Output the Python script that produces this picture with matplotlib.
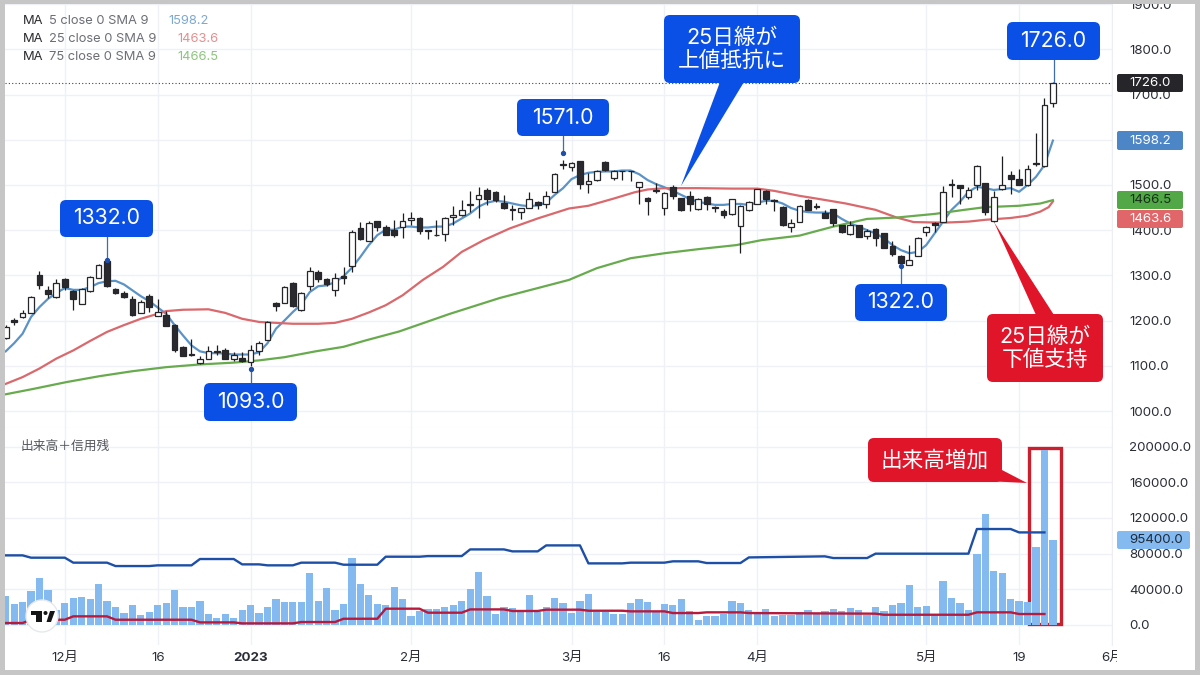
import matplotlib
matplotlib.use('Agg')
import matplotlib.pyplot as plt
from matplotlib.patches import Rectangle, FancyBboxPatch, Polygon, Circle

plt.rcParams['font.family'] = ['Inter', 'Noto Sans CJK JP', 'DejaVu Sans']

#daily candles
opens = [1162, 1201, 1208, 1217, 1300, 1267, 1252, 1293, 1265, 1237,
         1265, 1295, 1332, 1271, 1261, 1248, 1217, 1255, 1211, 1212,
         1190, 1142, 1127, 1106, 1116, 1133, 1136, 1116, 1118, 1109,
         1132, 1158, 1240, 1240, 1284, 1223, 1276, 1307, 1293, 1268,
         1298, 1320, 1405, 1376, 1420, 1406, 1401, 1406, 1423, 1428,
         1401, 1390, 1391, 1430, 1434, 1455, 1470, 1490, 1485, 1461,
         1447, 1440, 1450, 1462, 1459, 1485, 1546, 1539, 1552, 1503,
         1510, 1551, 1515, 1531, 1532, 1496, 1472, 1486, 1448, 1496,
         1471, 1475, 1446, 1474, 1452, 1442, 1436, 1409, 1444, 1459,
         1487, 1467, 1451, 1408, 1419, 1467, 1454, 1439, 1446, 1411,
         1392, 1411, 1387, 1403, 1393, 1365, 1343, 1324, 1343, 1397,
         1417, 1419, 1502, 1500, 1474, 1500, 1504, 1420, 1492, 1521,
         1513, 1500, 1548, 1543, 1681]
highs = [1190, 1205, 1224, 1254, 1310, 1276, 1293, 1295, 1268, 1272,
         1298, 1325, 1332, 1272, 1265, 1254, 1245, 1258, 1248, 1221,
         1192, 1143, 1160, 1122, 1144, 1147, 1140, 1130, 1130, 1145,
         1155, 1200, 1241, 1276, 1285, 1264, 1319, 1311, 1295, 1305,
         1319, 1400, 1418, 1420, 1421, 1411, 1423, 1437, 1440, 1430,
         1401, 1423, 1430, 1454, 1467, 1487, 1495, 1493, 1486, 1478,
         1456, 1450, 1485, 1464, 1487, 1526, 1556, 1550, 1553, 1527,
         1534, 1552, 1534, 1532, 1532, 1507, 1474, 1505, 1484, 1500,
         1472, 1487, 1472, 1475, 1453, 1446, 1470, 1455, 1465, 1492,
         1490, 1470, 1453, 1424, 1456, 1468, 1461, 1445, 1447, 1412,
         1421, 1412, 1402, 1404, 1394, 1377, 1345, 1367, 1384, 1410,
         1418, 1498, 1513, 1501, 1495, 1544, 1505, 1487, 1564, 1531,
         1535, 1544, 1616, 1692, 1728]
lows = [1160, 1190, 1206, 1216, 1269, 1250, 1250, 1268, 1224, 1236,
        1264, 1294, 1274, 1258, 1249, 1211, 1216, 1218, 1210, 1187,
        1130, 1121, 1122, 1105, 1115, 1125, 1114, 1110, 1109, 1100,
        1125, 1157, 1221, 1239, 1230, 1222, 1268, 1286, 1276, 1255,
        1280, 1308, 1378, 1375, 1399, 1389, 1386, 1382, 1411, 1392,
        1380, 1388, 1377, 1411, 1431, 1441, 1428, 1456, 1463, 1447,
        1423, 1425, 1448, 1446, 1449, 1484, 1536, 1532, 1492, 1482,
        1508, 1531, 1512, 1512, 1508, 1459, 1434, 1483, 1434, 1469,
        1443, 1442, 1445, 1445, 1441, 1428, 1434, 1350, 1442, 1458,
        1459, 1443, 1410, 1397, 1418, 1444, 1446, 1426, 1409, 1394,
        1389, 1385, 1381, 1365, 1360, 1344, 1322, 1323, 1342, 1388,
        1395, 1418, 1473, 1457, 1470, 1489, 1433, 1419, 1490, 1480,
        1499, 1498, 1542, 1540, 1673]
closes = [1186, 1197, 1217, 1252, 1279, 1258, 1283, 1274, 1248, 1270,
          1296, 1324, 1276, 1261, 1252, 1212, 1241, 1229, 1218, 1189,
          1134, 1122, 1125, 1116, 1132, 1131, 1115, 1123, 1110, 1136,
          1151, 1198, 1233, 1275, 1232, 1262, 1310, 1291, 1280, 1294,
          1294, 1396, 1381, 1417, 1406, 1390, 1389, 1421, 1428, 1398,
          1399, 1389, 1428, 1434, 1444, 1459, 1477, 1470, 1467, 1450,
          1445, 1449, 1470, 1455, 1476, 1524, 1545, 1549, 1502, 1509,
          1532, 1533, 1532, 1530, 1531, 1506, 1465, 1490, 1482, 1476,
          1444, 1459, 1470, 1457, 1450, 1434, 1468, 1453, 1462, 1491,
          1470, 1465, 1412, 1415, 1454, 1445, 1452, 1428, 1417, 1396,
          1411, 1386, 1399, 1382, 1361, 1347, 1328, 1334, 1382, 1406,
          1411, 1485, 1500, 1494, 1490, 1543, 1441, 1473, 1499, 1513,
          1501, 1536, 1546, 1676, 1726]

#moving averages
ma5 = [1132, 1150, 1171, 1208, 1230, 1248, 1261, 1272, 1268, 1268,
       1274, 1283, 1287, 1288, 1280, 1267, 1254, 1243, 1229, 1215,
       1190, 1167, 1145, 1132, 1128, 1128, 1127, 1125, 1125, 1125,
       1130, 1150, 1182, 1200, 1219, 1236, 1263, 1276, 1278, 1285,
       1298, 1317, 1341, 1367, 1389, 1401, 1401, 1408, 1408, 1406,
       1406, 1408, 1408, 1415, 1426, 1437, 1452, 1461, 1465, 1463,
       1459, 1455, 1453, 1455, 1461, 1478, 1493, 1513, 1522, 1527,
       1529, 1530, 1530, 1532, 1532, 1524, 1511, 1502, 1495, 1487,
       1478, 1469, 1463, 1459, 1456, 1456, 1458, 1458, 1456, 1461,
       1465, 1465, 1459, 1449, 1443, 1440, 1439, 1439, 1437, 1425,
       1415, 1408, 1400, 1393, 1382, 1367, 1356, 1349, 1352, 1367,
       1393, 1419, 1445, 1463, 1485, 1496, 1493, 1489, 1491, 1493,
       1485, 1500, 1518, 1544, 1598.2]
ma25_idx = [0, 2, 4, 6, 8, 10, 12, 14, 16, 18, 19, 21, 24, 26, 28, 30, 32, 34, 37, 39, 41, 43, 45, 47,
            49.4, 51.8, 54, 56.6, 59.7, 63, 66.7, 69, 72, 74.5, 76, 78, 82, 86, 89, 91, 94, 96, 99.5,
            103, 105.5, 107.5, 110, 111.5, 114, 116, 119, 121, 122.5, 123.5, 124]
ma25 = [1060, 1075, 1094, 1116, 1134, 1155, 1175, 1190, 1204, 1215, 1221, 1224, 1225, 1217, 1204, 1197, 1195, 1193, 1193, 1195, 1204, 1218, 1234, 1256,
        1290, 1319, 1352, 1378, 1404, 1426, 1448, 1454, 1470, 1484, 1490, 1493, 1493, 1492, 1492, 1487, 1476, 1470, 1459,
        1445, 1428, 1418, 1417, 1417, 1419, 1423, 1427, 1432, 1441, 1451, 1463.6]
ma75_idx = [0, 3.3, 7.2, 11.1, 15, 19, 23, 27, 30, 33, 36.7, 40, 42.6, 46.6, 52.6, 58.5, 66.7, 70, 74, 78, 82, 86.5, 89.5,
            94, 98, 102, 105.5, 110, 113.5, 116, 120, 122.5, 124]
ma75 = [1037, 1049, 1064, 1077, 1088, 1097, 1103, 1107, 1112, 1119, 1132, 1142, 1156, 1176, 1215, 1250, 1290, 1316, 1338, 1349, 1358, 1367, 1378,
        1388, 1408, 1425, 1428, 1436, 1445, 1451, 1454, 1459, 1466.5]

#volume bars
volume = [31800, 23600, 25000, 38000, 52000, 38600, 16000, 24300, 30000, 30700,
          28500, 46000, 27000, 19800, 13500, 21700, 11200, 14600, 21700, 24300,
          39300, 19800, 20200, 26200, 11600, 7500, 12000, 7500, 16500, 21700,
          13500, 19800, 28800, 25500, 25800, 25500, 58400, 27000, 41600, 16100,
          23600, 75300, 46000, 33000, 23600, 21700, 42300, 29200, 9400, 15700,
          17600, 18000, 19800, 22500, 26600, 40400, 59500, 32600, 12400, 20200,
          18700, 14200, 33700, 14200, 19800, 30000, 24700, 13500, 27000, 34800,
          14200, 14200, 12400, 12400, 24300, 29200, 25500, 14200, 23600, 22500,
          28800, 15700, 5600, 10100, 9700, 11600, 27000, 24700, 16100, 13100,
          17600, 10100, 10500, 10500, 14200, 16900, 12400, 15000, 18000, 15700,
          19100, 16500, 10500, 19800, 15400, 22500, 24300, 44900, 20200, 21300,
          10500, 49400, 30000, 24700, 16100, 79800, 124700, 59900, 58000, 28500,
          27000, 25800, 87300, 195900, 95400]

#margin balance lines (breakpoints of the steps)
buy_idx = [0, 2, 3, 7, 8, 12, 13, 17, 18, 22, 23, 27, 28, 30, 31, 34, 35, 39, 40, 44, 45, 49, 50, 54, 55, 59, 60, 63, 64, 68,
           69, 73, 74, 78, 79, 82, 83, 87, 88, 97, 98, 102, 103, 114, 115, 119, 120, 123]
buy_bal = [77900, 77900, 75300, 75300, 69700, 69700, 65900, 65900, 66700, 66700, 73800, 73800, 67800, 67800, 66700, 66700, 69700, 69700, 67400, 67400,
           76400, 76400, 77100, 77100, 84600, 84600, 82400, 82400, 89100, 89100, 68900, 68900, 69700, 69700, 71200, 71200, 69300, 69300, 75600, 76800,
           74900, 74900, 79800, 79800, 107500, 107500, 103700, 103700]
sell_idx = [0, 2, 3, 7, 8, 12, 13, 22, 23, 27, 28, 34, 35, 39, 40, 44, 45, 49, 50, 54, 55, 59, 60, 63, 64, 68, 69, 73, 74, 78, 79, 82, 83, 87, 88,
            103, 104, 114, 115, 119, 120, 123]
sell_bal = [1900, 1900, 5600, 5600, 9400, 9400, 5600, 5600, 2600, 2600, 1500, 1500, 3000, 3000, 6700, 6700, 18000, 18000, 13500, 13500, 17200, 17200,
            15400, 15400, 16900, 16900, 15700, 15700, 15000, 15000, 13100, 13100, 13900, 13900, 13100, 12400, 11200, 11200, 13900, 13900, 12000, 12000]

#axis ticks
date_ticks = [7, 18, 29, 48, 67, 78, 89, 109, 120, 131]
date_labels = ['12月', '16', '2023', '2月', '3月', '16', '4月', '5月', '19', '6月']
price_ticks = [1000, 1100, 1200, 1300, 1400, 1500, 1600, 1700, 1800, 1900]
vol_ticks = [0, 40000, 80000, 120000, 160000, 200000]

#values of the last bar
last_close = closes[-1]
last_ma = {'ma5': ma5[-1], 'ma25': ma25[-1], 'ma75': ma75[-1]}
last_vol = volume[-1]

W, H = 1200, 675
UP_BLUE = '#0b50e6'
CALL_RED = '#e0152a'
GRID = '#eff1f6'
TEXT = '#2b2e38'


#axes rectangle from pixel edges
def px_rect(left, top, right, bottom):
    return [left / W, 1 - bottom / H, (right - left) / W, (bottom - top) / H]


fig = plt.figure(figsize=(12, 6.75), dpi=100, facecolor='white')
ax = fig.add_axes(px_rect(5, 4, 1112, 428))
ax_vol = fig.add_axes(px_rect(5, 428, 1112, 645))
over = fig.add_axes([0, 0, 1, 1], zorder=10)
over.set_xlim(0, W)
over.set_ylim(H, 0)
over.axis('off')

x_all = list(range(len(closes)))
for a in (ax, ax_vol):
    a.set_xlim(-0.083, 130.9)
    a.set_xticks(date_ticks)
    a.grid(True, color=GRID, linewidth=1.0)
    a.set_axisbelow(True)
    a.yaxis.tick_right()
    a.tick_params(length=0, labelsize=9.6, labelcolor=TEXT)
    for s in a.spines.values():
        s.set_visible(False)
    a.spines['right'].set_visible(True)
    a.spines['right'].set_color('#eceef3')

ax.set_ylim(962.4, 1900.4)
ax.set_yticks(price_ticks)
ax.set_yticklabels([f'{v:.1f}' for v in price_ticks], ha='left')
ax.tick_params(axis='y', pad=12.5)
ax.tick_params(axis='x', labelbottom=False)
ax.spines['bottom'].set_visible(True)
ax.spines['bottom'].set_color('#dcdfe6')

ax_vol.set_ylim(-22800, 221000)
ax_vol.set_yticks(vol_ticks)
ax_vol.set_yticklabels([f'{v:.1f}' for v in vol_ticks], ha='left')
ax_vol.tick_params(axis='y', pad=12.5)
ax_vol.set_xticklabels(date_labels)
ax_vol.tick_params(axis='x', pad=5)
#the last date label is cut off by the price scale
clip = Rectangle((0, 0), 1117, H, transform=over.transData)
for lab in ax_vol.get_xticklabels():
    lab.set_clip_path(clip)
    lab.set_clip_on(True)
ax_vol.get_xticklabels()[2].set_fontweight('bold')

#moving averages first, candles go on top
ax.plot(x_all, ma5, color='#5b93c7', linewidth=1.6, zorder=2, clip_on=True)
ax.plot(ma25_idx, ma25, color='#d9696d', linewidth=1.6, zorder=2)
ax.plot(ma75_idx, ma75, color='#68ab4e', linewidth=1.6, zorder=2)

#candles
for i in x_all:
    up = closes[i] >= opens[i]
    body_color = 'white' if up else '#2a2a2e'
    ax.vlines(i, lows[i], highs[i], color='#1d1d20', linewidth=0.9, zorder=3)
    ax.bar(i, abs(closes[i] - opens[i]), bottom=min(opens[i], closes[i]), width=0.68,
           facecolor=body_color, edgecolor='#26262a', linewidth=0.9, zorder=4)

#last price line
ax.axhline(last_close, color='#444444', linewidth=0.8, linestyle=(0, (1, 2)), zorder=1)

#volume pane; the red frame sits under the bars
ax_vol.add_patch(Rectangle((1028.5, 447.5), 32, 176, transform=over.transData, fill=False,
                           edgecolor='#cc1f2d', linewidth=2.4, zorder=1.5, clip_on=False))
ax_vol.bar(x_all, volume, width=0.86, color='#84baf0', zorder=2)
ax_vol.plot(buy_idx, buy_bal, color='#1d4fa6', linewidth=1.7, zorder=3)
ax_vol.plot(sell_idx, sell_bal, color='#b81a3c', linewidth=1.7, zorder=3)


#rounded callout with optional tail polygon
def callout(box, text, color, size, tail=None):
    l, t, r, b = box
    over.add_patch(FancyBboxPatch((l, t), r - l, b - t, boxstyle='round,pad=0,rounding_size=6',
                                  facecolor=color, edgecolor='none', zorder=5))
    if tail:
        over.add_patch(Polygon(tail, closed=True, facecolor=color, edgecolor='none', zorder=5))
    over.text((l + r) / 2, (t + b) / 2, text, color='white', fontsize=size, ha='center',
              va='center', linespacing=1.15, zorder=6)


#price labels with a stem down to the point
def price_call(box, text, stem, dot=None):
    x = (box[0] + box[2]) / 2
    over.plot([x, x], stem, color='#3f6bb0', linewidth=0.9, zorder=4)
    if dot:
        over.plot([x], [dot], 'o', color='#1f4fa8', markersize=2.8, zorder=4)
    callout(box, text, UP_BLUE, 15.3)


price_call((60, 200, 153, 237), '1332.0', (237, 260), 260)
price_call((204, 383, 297, 421), '1093.0', (383, 369), 369)
price_call((517, 99, 609, 136), '1571.0', (136, 152), 152.5)
price_call((855, 284, 947, 321), '1322.0', (284, 266), 265.5)
price_call((1007, 22, 1100, 60), '1726.0', (60, 82))
callout((664, 15, 800, 83), '25日線が\n上値抵抗に', UP_BLUE, 15.6,
        tail=[(720, 82), (744, 82), (681, 186)])
callout((987, 314, 1103, 382), '25日線が\n下値支持', CALL_RED, 15.6,
        tail=[(1036, 315), (1054, 315), (994, 222)])
callout((868, 438, 1002, 482), '出来高増加', CALL_RED, 15.6,
        tail=[(985, 481), (1002, 470), (1027, 483)])


#tag on the price scale
def scale_tag(top, bottom, text, bg, fg, right=1183):
    over.add_patch(FancyBboxPatch((1117, top), right - 1117, bottom - top,
                                  boxstyle='round,pad=0,rounding_size=2', facecolor=bg,
                                  edgecolor='none', zorder=5))
    over.text(1129, (top + bottom) / 2, text, color=fg, fontsize=9.6, ha='left', va='center', zorder=6)


scale_tag(74, 92, f'{last_close:.1f}', '#26262a', 'white')
scale_tag(131, 150, f"{last_ma['ma5']:.1f}", '#4c86c6', 'white')
scale_tag(191, 209, f"{last_ma['ma75']:.1f}", '#52a847', '#17301a')
scale_tag(210, 228, f"{last_ma['ma25']:.1f}", '#e0666a', 'white')
scale_tag(531, 549, f'{last_vol:.1f}', '#84baf0', '#1f2a3a', right=1190)

#legend rows at the top left
legend_rows = [(21, '5', f"{last_ma['ma5']:.1f}", '#7fa8cf', 168),
               (39, '25', f"{last_ma['ma25']:.1f}", '#e38f90', 177),
               (57, '75', f"{last_ma['ma75']:.1f}", '#8dc47e', 177)]
for y, length, val, col, val_x in legend_rows:
    over.text(23, y, 'MA', color='#2b2b30', fontsize=9.3, va='center')
    over.text(49, y, f'{length} close 0 SMA 9', color='#6d6f76', fontsize=9.3, va='center')
    over.text(val_x, y, val, color=col, fontsize=9.3, va='center')
over.text(21, 447, '出来高＋信用残', color='#55575e', fontsize=9.2, va='center')

#logo badge
over.add_patch(Circle((42, 616), 16, facecolor='white', edgecolor='#e6e8ec', linewidth=1, zorder=5))
over.add_patch(Polygon([(30.5, 611), (42, 611), (42, 622), (36, 622), (36, 615), (30.5, 615)],
                       facecolor='#151518', edgecolor='none', zorder=6))
over.add_patch(Circle((45.5, 613), 2, facecolor='#151518', edgecolor='none', zorder=6))
over.add_patch(Polygon([(46.5, 622), (50, 611), (55, 611), (51, 622)], facecolor='#151518',
                       edgecolor='none', zorder=6))

#grey frame round the screenshot
frame = '#c6c6c6'
for rect in [(0, 0, 5, H), (1195, 0, 5, H), (0, 0, W, 4), (0, 670, W, 5)]:
    over.add_patch(Rectangle(rect[:2], rect[2], rect[3], facecolor=frame, edgecolor='none', zorder=9))

fig.savefig('out.png', dpi=100)
